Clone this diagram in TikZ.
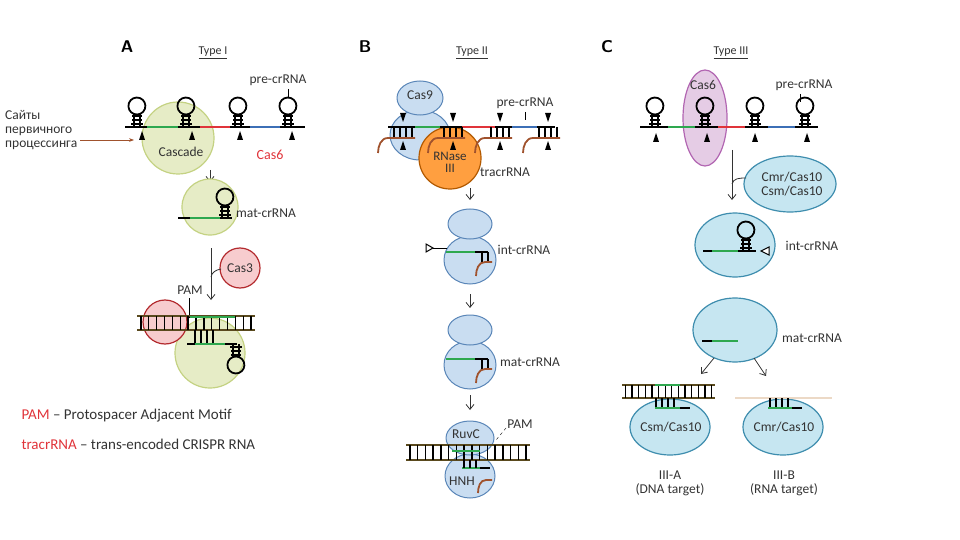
\documentclass[tikz,border=0pt]{standalone}
\usepackage{fontspec}
\setmainfont{Carlito}
\usetikzlibrary{arrows.meta}

\definecolor{crgreen}{HTML}{2EA84F}
\definecolor{crred}{HTML}{E0343A}
\definecolor{crblue}{HTML}{3C6FB6}
\definecolor{tracr}{HTML}{A0522D}
\definecolor{dnabr}{HTML}{5A4A1E}
\definecolor{cascfill}{HTML}{E6ECC6}
\definecolor{cascdraw}{HTML}{C4D282}
\definecolor{casblue}{HTML}{C9DDF1}
\definecolor{casbluedraw}{HTML}{5A86B8}
\definecolor{cmrfill}{HTML}{C6E6F1}
\definecolor{cmrdraw}{HTML}{3E8DAE}

\tikzset{
  rna/.style={line width=2pt},
  dna/.style={line width=1.8pt,dnabr},
  flow/.style={-{Straight Barb[length=5pt,width=8pt]},thick,black!80},
  lbl/.style={font=\fontsize{13.5}{14}\selectfont,text=black!80},
  ttl/.style={font=\fontsize{12}{14}\selectfont,text=black!80},
  letter/.style={font=\sffamily\bfseries\fontsize{17}{18}\selectfont},
  cascade/.style={fill=cascfill,draw=cascdraw,line width=1.2pt},
  cas9/.style={fill=casblue,draw=casbluedraw,line width=1pt},
  cmr/.style={fill=cmrfill,draw=cmrdraw,line width=1.2pt},
  hairpin/.pic={
    \draw[line width=1.5pt] (-3,0)--(-3,-13) (3,0)--(3,-13)
      (-6,-3)--(6,-3) (-5,-7)--(5,-7) (-5,-11)--(5,-11);
    \draw[line width=1.8pt] (-3,-13) arc (110:-250:8.5);
  },
  hairpindown/.pic={
    \draw[line width=1.5pt] (-3,0)--(-3,13) (3,0)--(3,13)
      (-6,3)--(6,3) (-5,7)--(5,7) (-5,11)--(5,11);
    \draw[line width=1.8pt] (-3,13) arc (250:-110:8.5);
  },
  cutup/.pic={\fill (-3,4)--(3,4)--(0,-5)--cycle;},
  cutdown/.pic={\fill (-3,-4)--(3,-4)--(0,5)--cycle;}
}

% double-stranded target: x1, x2, top, bottom, rungs
\newcommand\ladder[5]{%
  \draw[dna] (#1,#3)--(#2,#3) (#1,#4)--(#2,#4);
  \foreach \i in {1,...,#5}
    \draw[line width=1.3pt] ({#1+(\i-0.5)*(#2-#1)/#5},#3)--({#1+(\i-0.5)*(#2-#1)/#5},#4);
}

\begin{document}
\begin{tikzpicture}[x=1pt,y=-1pt]
\useasboundingbox (0,0) rectangle (960,540);

%% ---- A: Type I
\node[letter] (tA) at (127,47) {A};
\node[ttl] (ttA) at (213,53) {\underline{Type I}};
\node[lbl,align=left,anchor=north west,inner sep=0pt] (sites) at (5,110) {Сайты\\первичного\\процессинга};
\draw[cascade] (178,138) circle (36);
\draw[rna] (125,127)--(305,127);
\draw[rna,crgreen] (147,127)--(178,127);
\draw[rna,crred] (200,127)--(230,127);
\draw[rna,crblue] (250,127)--(280,127);
\foreach \x in {137,186,238,288} \pic at (\x,127) {hairpin};
\foreach \x in {142,192,240,292} \pic at (\x,136) {cutup};
\node[lbl] (casc) at (181,152) {Cascade};
\node[lbl,text=crred,font=\fontsize{14}{15}\selectfont] (cas6a) at (270,155) {Cas6};
\node[lbl] (preA) at (278,80) {pre-crRNA};
\draw[thin] (288,89)--(288,97);
\draw[-{Stealth[length=5pt]},tracr,thick] (80,140)--(134,140);

\draw[flow] (210,170)--(210,182);
\draw[cascade] (210,207) circle (28);
\draw[rna] (178,218)--(190,218);
\draw[rna,crgreen] (190,218)--(220,218);
\draw[rna] (220,218)--(232,218);
\pic at (225,218) {hairpin};
\node[lbl] (matA) at (266,213) {mat-crRNA};

\draw[flow] (211,248)--(211,300);
\draw[fill=crred!25,draw=crred!80!black,line width=1.2pt] (240,268) circle (20);
\node[lbl] (cas3) at (240,268) {Cas3};
\draw[thick,black!80] (211,277) to[out=80,in=190] (221,269);
\node[lbl] (pamA) at (190,290) {PAM};
\draw[thin] (189,298)--(189,318);
\draw[cascade] (210,353) circle (35);
\draw[fill=crred!25,draw=crred!80!black,line width=1.2pt] (165,322) circle (22);
\ladder{137}{255}{316}{330}{15}
\draw[line width=2pt,crgreen] (190,317)--(235,317);
\foreach \x in {195,201,207,213} \draw[line width=1.3pt] (\x,330)--(\x,344);
\draw[rna] (187,344)--(195,344);
\draw[rna,crgreen] (195,344)--(225,344);
\draw[rna] (225,344)--(237,344);
\pic at (236,344) {hairpindown};

%% ---- B: Type II
\node[letter] (tB) at (365,47) {B};
\node[ttl] (ttB) at (472,53) {\underline{Type II}};
\draw[cas9] (420,135) ellipse (30 and 25);
\draw[cas9] (420,98) ellipse (23 and 17);
\node[lbl] (cas9) at (420,95) {Cas9};
\draw[fill=orange!75,draw=orange!70!black,line width=1.2pt] (450,158) circle (31);
\node[lbl,align=center,font=\fontsize{13}{12}\selectfont] (rnase) at (450,162) {RNase\\III};
\draw[rna] (388,127)--(555,127);
\draw[rna,crgreen] (415,127)--(440,127);
\draw[rna,crred] (462,127)--(495,127);
\draw[rna,crblue] (512,127)--(537,127);
\foreach \x in {403,453,500,548} {
  \foreach \d in {-9,-3,3,9} \draw[line width=1.3pt] (\x+\d,127)--(\x+\d,138);
  \draw[line width=1.8pt,tracr] (\x-25,153) to[out=90,in=180] (\x-15,138)--(\x+12,138);
  \pic at (\x,117) {cutdown};
  \pic at (\x,146) {cutup};
}
\node[lbl] (preB) at (525,103) {pre-crRNA};
\draw[thin] (525,112)--(525,120);
\node[lbl] (tracrlbl) at (505,172) {tracrRNA};
\draw[flow] (470,188)--(470,200);

\draw[cas9] (470,260) ellipse (26 and 24);
\draw[cas9] (470,224) ellipse (22 and 15);
\draw[rna,crgreen] (446,252)--(475,252);
\draw[rna] (475,252)--(488,252);
\foreach \x in {482,488} \draw[line width=1.3pt] (\x,252)--(\x,262);
\draw[line width=1.8pt,tracr] (476,276) to[out=90,in=180] (485,262)--(492,262);
\draw[line width=1pt,fill=white] (426,244)--(426,252)--(433,248)--cycle;
\draw[thick] (433,248)--(447,248);
\node[lbl] (intB) at (524,250) {int-crRNA};
\draw[flow] (470,294)--(470,308);

\draw[cas9] (470,365) ellipse (26 and 24);
\draw[cas9] (470,330) ellipse (22 and 15);
\draw[rna,crgreen] (446,359)--(475,359);
\draw[rna] (475,359)--(488,359);
\foreach \x in {482,488} \draw[line width=1.3pt] (\x,359)--(\x,369);
\draw[line width=1.8pt,tracr] (476,383) to[out=90,in=180] (485,369)--(492,369);
\node[lbl] (matB) at (530,362) {mat-crRNA};
\draw[flow] (470,395)--(470,410);

\draw[cas9] (470,476) ellipse (25 and 22);
\draw[cas9] (470,438) ellipse (24 and 17);
\ladder{406}{530}{445}{460}{16}
\draw[rna,crgreen] (452,451)--(480,451);
\node[lbl] (ruvc) at (466,434) {RuvC};
\node[lbl] (hnh) at (462,481) {HNH};
\draw[rna,crgreen] (462,468)--(480,468);
\foreach \x in {464,470,476} \draw[line width=1.3pt] (\x,460)--(\x,468);
\draw[rna] (480,468)--(490,468);
\draw[line width=1.8pt,tracr] (478,493) to[out=90,in=180] (486,480)--(492,480);
\node[lbl] (pamB) at (520,424) {PAM};
\draw[thin,dashed] (506,428)--(496,440);

%% ---- C: Type III
\node[letter] (tC) at (607,47) {C};
\node[ttl] (ttC) at (731,53) {\underline{Type III}};
\draw[fill=violet!20,draw=violet!60,line width=1.2pt] (705,118) ellipse (22 and 48);
\node[lbl] (cas6c) at (703,85) {Cas6};
\draw[rna] (640,127)--(818,127);
\draw[rna,crgreen] (668,127)--(695,127);
\draw[rna,crred] (718,127)--(745,127);
\draw[rna,crblue] (768,127)--(795,127);
\foreach \x in {655,705,755,805} \pic at (\x,127) {hairpin};
\foreach \x in {656,707,755,807} \pic at (\x,138) {cutup};
\node[lbl] (preC) at (804,85) {pre-crRNA};
\draw[thin] (800,94)--(800,102);

\draw[flow] (732,150)--(732,200);
\draw[cmr] (790,184) ellipse (46 and 28);
\node[lbl,align=center] (cmrC) at (792,184) {Cmr/Cas10\\Csm/Cas10};
\draw[thick,black!80] (732,184) to[out=80,in=180] (746,178);

\draw[cmr] (735,245) ellipse (40 and 32);
\draw[rna] (703,251)--(712,251);
\draw[rna,crgreen] (712,251)--(738,251);
\draw[rna] (738,251)--(756,251);
\pic at (746,251) {hairpin};
\draw[line width=1pt,fill=white] (769,247)--(769,255)--(761,251)--cycle;
\node[lbl] (intC) at (812,246) {int-crRNA};

\draw[cmr] (735,330) ellipse (42 and 32);
\draw[rna] (702,341)--(712,341);
\draw[rna,crgreen] (712,341)--(738,341);
\node[lbl] (matC) at (812,338) {mat-crRNA};
\draw[flow] (714,358)--(701,374);
\draw[flow] (754,358)--(766,376);

\draw[cmr] (670,427) ellipse (40 and 28);
\ladder{622}{715}{385}{398}{14}
\draw[rna,crgreen] (655,385)--(680,385);
\foreach \x in {656,662,668,674} \draw[line width=1.3pt] (\x,398)--(\x,408);
\draw[rna,crgreen] (655,408)--(680,408);
\draw[rna] (680,408)--(690,408);
\node[lbl] (csm) at (671,427) {Csm/Cas10};

\draw[cmr] (783,427) ellipse (40 and 28);
\draw[line width=2.5pt,brown!30] (735,398)--(832,398);
\foreach \x in {770,776,782,788} \draw[line width=1.3pt] (\x,398)--(\x,408);
\draw[rna,crgreen] (768,408)--(792,408);
\draw[rna] (792,408)--(802,408);
\node[lbl] (cmr) at (784,427) {Cmr/Cas10};

\node[lbl,align=center] (iiia) at (670,483) {III-A\\(DNA target)};
\node[lbl,align=center] (iiib) at (784,483) {III-B\\(RNA target)};

%% ---- legend
\node[lbl,anchor=west,font=\fontsize{15}{17}\selectfont] (leg1) at (18,416) {\textcolor{crred}{PAM} – Protospacer Adjacent Motif};
\node[lbl,anchor=west,font=\fontsize{15}{17}\selectfont] (leg2) at (18,444) {\textcolor{crred}{tracrRNA} – trans-encoded CRISPR RNA};
\end{tikzpicture}
\end{document}
